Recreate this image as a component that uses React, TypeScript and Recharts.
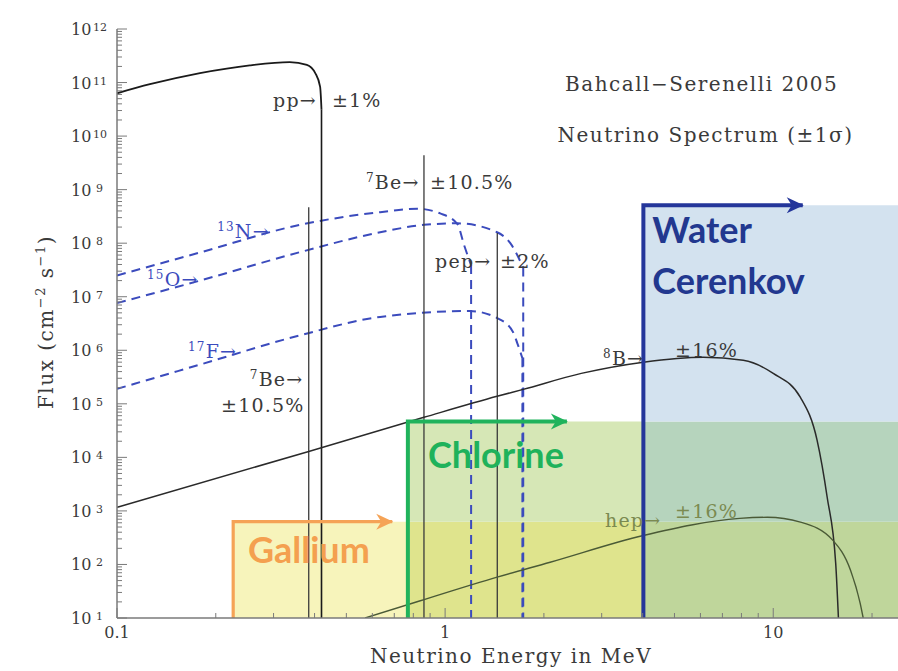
import React from "react";
import { ComposedChart, XAxis, YAxis, Line, Scatter, ReferenceArea } from "recharts";

const E_MIN = 0.1;
const E_MAX = 24;
const FLUX_MIN = 10;
const FLUX_MAX = 1e12;

// tick labels
const xTickLabels = [0.1, 1, 10];
const yDecades = [1, 2, 3, 4, 5, 6, 7, 8, 9, 10, 11, 12];

// continuous spectra, energy in MeV, flux in cm^-2 s^-1
const ppSpectrum = [
  { e: 0.1, flux: 6.3e10 },
  { e: 0.126, flux: 9.3e10 },
  { e: 0.179, flux: 1.5e11 },
  { e: 0.254, flux: 2.1e11 },
  { e: 0.336, flux: 2.4e11 },
  { e: 0.379, flux: 2.14e11 },
  { e: 0.402, flux: 1.5e11 },
  { e: 0.416, flux: 8.3e10 },
  { e: 0.42, flux: 3.1e10 },
];

const n13Spectrum = [
  { e: 0.1, flux: 2.5e7 },
  { e: 0.179, flux: 6.7e7 },
  { e: 0.361, flux: 2.2e8 },
  { e: 0.634, flux: 3.8e8 },
  { e: 0.822, flux: 4.4e8 },
  { e: 0.966, flux: 3.6e8 },
  { e: 1.089, flux: 2.3e8 },
  { e: 1.143, flux: 9.1e7 },
  { e: 1.2, flux: 3.9e7 },
];

const o15Spectrum = [
  { e: 0.1, flux: 7.6e6 },
  { e: 0.179, flux: 2.0e7 },
  { e: 0.361, flux: 6.8e7 },
  { e: 0.634, flux: 1.6e8 },
  { e: 0.862, flux: 2.2e8 },
  { e: 1.09, flux: 2.35e8 },
  { e: 1.44, flux: 1.6e8 },
  { e: 1.58, flux: 1.0e8 },
  { e: 1.73, flux: 3.5e7 },
];

const f17Spectrum = [
  { e: 0.1, flux: 1.9e5 },
  { e: 0.179, flux: 5.4e5 },
  { e: 0.361, flux: 1.9e6 },
  { e: 0.634, flux: 4.2e6 },
  { e: 1.19, flux: 5.4e6 },
  { e: 1.44, flux: 4.0e6 },
  { e: 1.61, flux: 2.2e6 },
  { e: 1.66, flux: 1.35e6 },
  { e: 1.72, flux: 7.1e5 },
];

const b8Spectrum = [
  { e: 0.1, flux: 1.17e3 },
  { e: 0.384, flux: 1.29e4 },
  { e: 0.862, flux: 5.6e4 },
  { e: 1.44, flux: 1.38e5 },
  { e: 1.73, flux: 1.86e5 },
  { e: 2.6, flux: 3.7e5 },
  { e: 4.02, flux: 6.0e5 },
  { e: 6.12, flux: 7.4e5 },
  { e: 8.1, flux: 6.5e5 },
  { e: 10, flux: 3.7e5 },
  { e: 12.1, flux: 1.32e5 },
  { e: 13.6, flux: 2.1e4 },
  { e: 14.6, flux: 1.8e3 },
  { e: 15.5, flux: 105 },
  { e: 15.8, flux: 10 },
];

const hepSpectrum = [
  { e: 0.57, flux: 10 },
  { e: 0.84, flux: 21 },
  { e: 1.44, flux: 58 },
  { e: 2.09, flux: 110 },
  { e: 4.02, flux: 347 },
  { e: 7.9, flux: 724 },
  { e: 9.6, flux: 760 },
  { e: 12.1, flux: 617 },
  { e: 15.2, flux: 282 },
  { e: 17.2, flux: 78 },
  { e: 18.4, flux: 19 },
  { e: 18.8, flux: 10 },
];

// monoenergetic lines
const lineSources = [
  { name: "7Be-384", e: 0.384, flux: 4.7e8 },
  { name: "7Be-862", e: 0.862, flux: 4.4e9 },
  { name: "pep", e: 1.442, flux: 1.55e8 },
];

// detector thresholds and the extent of their boxes
const detectors = [
  { name: "Gallium", threshold: 0.226, top: 630, arrowEnd: 0.69 },
  { name: "Chlorine", threshold: 0.77, top: 4.7e4, arrowEnd: 2.35 },
  { name: "Water", threshold: 4.02, top: 5.1e8, arrowEnd: 12.3 },
];

// annotations (anchored at text start / baseline)
const titleNotes = [
  { e: 2.32, flux: 6.9e10, sup: "", text: "Bahcall−Serenelli 2005" },
  { e: 2.2, flux: 7.7e9, sup: "", text: "Neutrino Spectrum (±1σ)" },
];

const spectrumNotes = [
  { e: 0.299, flux: 3.48e10, sup: "", text: "pp→" },
  { e: 0.452, flux: 3.48e10, sup: "", text: "±1%" },
  { e: 0.574, flux: 1.02e9, sup: "7", text: "Be→" },
  { e: 0.9, flux: 1.02e9, sup: "", text: "±10.5%" },
  { e: 0.932, flux: 3.4e7, sup: "", text: "pep→" },
  { e: 1.47, flux: 3.4e7, sup: "", text: "±2%" },
  { e: 0.254, flux: 2.12e5, sup: "7", text: "Be→" },
  { e: 0.2075, flux: 6.9e4, sup: "", text: "±10.5%" },
  { e: 3.03, flux: 5.25e5, sup: "8", text: "B→" },
  { e: 5.02, flux: 7.4e5, sup: "", text: "±16%" },
];

const hepNotes = [
  { e: 3.07, flux: 492, sup: "", text: "hep→" },
  { e: 5.02, flux: 724, sup: "", text: "±16%" },
];

const cnoNotes = [
  { e: 0.202, flux: 1.24e8, sup: "13", text: "N→" },
  { e: 0.1234, flux: 1.57e7, sup: "15", text: "O→" },
  { e: 0.1646, flux: 7.1e5, sup: "17", text: "F→" },
];

const detectorNotes = [
  { e: 0.2507, flux: 104.5, detector: "Gallium", text: "Gallium" },
  { e: 0.887, flux: 6.2e3, detector: "Chlorine", text: "Chlorine" },
  { e: 4.28, flux: 1.0e8, detector: "Water", text: "Water" },
  { e: 4.28, flux: 1.11e7, detector: "Water", text: "Cerenkov" },
];

const SERIF = "'DejaVu Serif', serif";
const SANS = "Lato, 'Open Sans', sans-serif";
const AXIS = "#7a7a7a";
const TEXT = "#3a3a3a";
const CNO = "#3b4bbd";
const DET_COLOR: Record<string, string> = {
  Gallium: "#f4a04f",
  Chlorine: "#1fb25b",
  Water: "#22388f",
};
const DET_LINE: Record<string, string> = {
  Gallium: "#f5a356",
  Chlorine: "#20b35c",
  Water: "#24369a",
};
const FILL = {
  gal: "#f7f4bb",
  galCl: "#dfe48d",
  cl: "#d6e7b6",
  all: "#bfd69b",
  waterCl: "#b6d4bd",
  water: "#d3e2ef",
};

const decadeTicks = (lo: number, hi: number) => {
  const out: number[] = [];
  for (let n = lo; n <= hi; n++) {
    for (let m = 1; m <= 9; m++) out.push(m * Math.pow(10, n));
  }
  return out;
};
const xTicks = decadeTicks(-1, 1).filter((v) => v <= E_MAX + 1e-9);
const yTicks = decadeTicks(yDecades[0], yDecades[yDecades.length - 1]).filter((v) => v <= FLUX_MAX * 1.0001);

const isDecade = (v: number) => Math.abs(Math.log10(v) - Math.round(Math.log10(v))) < 1e-6;

const dropFrom = (s: { e: number; flux: number }[]) => {
  const last = s[s.length - 1];
  return [last, { e: last.e, flux: FLUX_MIN }];
};

function LeftTick({ x, y, payload }: any) {
  const v = payload.value;
  const major = isDecade(v);
  const exp = Math.round(Math.log10(v));
  return (
    <g>
      <line x1={x} x2={x + (major ? 10 : 5)} y1={y} y2={y} stroke={AXIS} strokeWidth={1} />
      {major && yDecades.includes(exp) && (
        <text x={x - 46} y={y + 6} fontSize={16} fontFamily={SERIF} fill={TEXT}>
          10
          <tspan x={x - (exp >= 10 ? 24 : 21)} y={y + 2} fontSize={11}>
            {exp}
          </tspan>
        </text>
      )}
    </g>
  );
}

function RightTick({ x, y, payload }: any) {
  if (!isDecade(payload.value)) return <g />;
  return <line x1={x} x2={x - 8} y1={y} y2={y} stroke={AXIS} strokeWidth={1} />;
}

function BottomTick({ x, y, payload }: any) {
  const v = payload.value;
  const major = isDecade(v);
  const label = xTickLabels.find((t) => Math.abs(t - v) < 1e-9);
  return (
    <g>
      <line x1={x} x2={x} y1={y} y2={y - (major ? 10 : 5)} stroke={AXIS} strokeWidth={1} />
      {label !== undefined && (
        <text x={x} y={y + 20} textAnchor="middle" fontSize={16} fontFamily={SERIF} fill={TEXT}>
          {String(label)}
        </text>
      )}
    </g>
  );
}

function TopTick({ x, y, payload }: any) {
  const major = isDecade(payload.value);
  return <line x1={x} x2={x} y1={y} y2={y + (major ? 10 : 5)} stroke={AXIS} strokeWidth={1} />;
}

function XTitle({ viewBox }: any) {
  const cx = viewBox.x + viewBox.width / 2 + 3.5;
  return (
    <text x={cx} y={viewBox.y + 45} textAnchor="middle" fontSize={20} letterSpacing={1.5} fontFamily={SERIF} fill={TEXT}>
      Neutrino Energy in MeV
    </text>
  );
}

function YTitle({ viewBox }: any) {
  const cx = 45;
  const cy = viewBox.y + viewBox.height / 2 - 1.5;
  return (
    <text
      x={cx}
      y={cy}
      textAnchor="middle"
      fontSize={20}
      letterSpacing={1.5}
      fontFamily={SERIF}
      fill={TEXT}
      transform={`rotate(-90 ${cx} ${cy})`}
    >
      Flux (cm
      <tspan fontSize={13} dy={-8}>−2</tspan>
      <tspan dy={8}> s</tspan>
      <tspan fontSize={13} dy={-8}>−1</tspan>
      <tspan dy={8}>)</tspan>
    </text>
  );
}

const noteShape = (color: string, size: number, supSize: number, family = SERIF, weight = 400, spacing = 1.2) =>
  (p: any) => {
    const d = p.payload;
    return (
      <text x={p.cx} y={p.cy} fontSize={size} fontFamily={family} fontWeight={weight} fill={color} letterSpacing={spacing}>
        {d.sup ? (
          <>
            <tspan fontSize={supSize} dy={-7}>{d.sup}</tspan>
            <tspan dy={7}>{d.text}</tspan>
          </>
        ) : (
          d.text
        )}
      </text>
    );
  };

const detectorShape = (p: any) => {
  const d = p.payload;
  return (
    <text x={p.cx} y={p.cy} fontSize={36} fontFamily={SANS} fontWeight={700} fill={DET_COLOR[d.detector]}>
      {d.text}
    </text>
  );
};

const arrowDot = (color: string, last: number) => (p: any) =>
  p.index === last ? (
    <path
      key={`ad${p.index}`}
      d={`M${p.cx + 1} ${p.cy} L${p.cx - 16} ${p.cy - 8} L${p.cx - 11} ${p.cy} L${p.cx - 16} ${p.cy + 8} Z`}
      fill={color}
    />
  ) : (
    <g key={`ad${p.index}`} />
  );

export default function App() {
  const [gal, cl, water] = detectors;
  const bands = [
    { key: "gal", x1: gal.threshold, x2: cl.threshold, y1: FLUX_MIN, y2: gal.top, fill: FILL.gal },
    { key: "galCl", x1: cl.threshold, x2: water.threshold, y1: FLUX_MIN, y2: gal.top, fill: FILL.galCl },
    { key: "cl", x1: cl.threshold, x2: water.threshold, y1: gal.top, y2: cl.top, fill: FILL.cl },
    { key: "all", x1: water.threshold, x2: E_MAX, y1: FLUX_MIN, y2: gal.top, fill: FILL.all },
    { key: "waterCl", x1: water.threshold, x2: E_MAX, y1: gal.top, y2: cl.top, fill: FILL.waterCl },
    { key: "water", x1: water.threshold, x2: E_MAX, y1: cl.top, y2: water.top, fill: FILL.water },
  ];

  return (
    <div style={{ position: "absolute", left: 8, top: 8, width: 890, height: 663, background: "#fff" }}>
      <ComposedChart width={890} height={663} margin={{ top: 21, right: 0, bottom: 0, left: 0 }}>
        <XAxis
          xAxisId={0}
          dataKey="e"
          type="number"
          scale="log"
          domain={[E_MIN, E_MAX]}
          allowDataOverflow
          ticks={xTicks}
          interval={0}
          tickSize={0}
          tickMargin={0}
          tick={<BottomTick />}
          tickLine={false}
          axisLine={{ stroke: AXIS, strokeWidth: 1.5 }}
          height={53}
          label={<XTitle />}
        />
        <XAxis
          xAxisId="top"
          orientation="top"
          dataKey="e"
          type="number"
          scale="log"
          domain={[E_MIN, E_MAX]}
          allowDataOverflow
          ticks={xTicks}
          interval={0}
          tickSize={0}
          tickMargin={0}
          tick={<TopTick />}
          tickLine={false}
          axisLine={{ stroke: AXIS, strokeWidth: 1.5 }}
          height={0}
        />
        <YAxis
          yAxisId={0}
          dataKey="flux"
          type="number"
          scale="log"
          domain={[FLUX_MIN, FLUX_MAX]}
          allowDataOverflow
          ticks={yTicks}
          interval={0}
          tickSize={0}
          tickMargin={0}
          tick={<LeftTick />}
          tickLine={false}
          axisLine={{ stroke: AXIS, strokeWidth: 1.5 }}
          width={109}
          label={<YTitle />}
        />
        <YAxis
          yAxisId="right"
          orientation="right"
          dataKey="flux"
          type="number"
          scale="log"
          domain={[FLUX_MIN, FLUX_MAX]}
          allowDataOverflow
          ticks={yTicks}
          interval={0}
          tickSize={0}
          tickMargin={0}
          tick={<RightTick />}
          tickLine={false}
          axisLine={{ stroke: AXIS, strokeWidth: 1.5 }}
          width={0}
        />

        {bands.map((b) => (
          <ReferenceArea
            key={b.key}
            x1={b.x1}
            x2={b.x2}
            y1={b.y1}
            y2={b.y2}
            fill={b.fill}
            fillOpacity={1}
            stroke="none"
            ifOverflow="hidden"
          />
        ))}

        {/* CNO spectra */}
        {[n13Spectrum, o15Spectrum, f17Spectrum].map((s, i) => (
          <Line
            key={`cno${i}`}
            data={s}
            dataKey="flux"
            type="monotone"
            stroke={CNO}
            strokeWidth={2}
            strokeDasharray="9 6"
            dot={false}
            isAnimationActive={false}
          />
        ))}
        {[n13Spectrum, o15Spectrum, f17Spectrum].map((s, i) => (
          <Line
            key={`cnod${i}`}
            data={dropFrom(s)}
            dataKey="flux"
            type="linear"
            stroke={CNO}
            strokeWidth={2}
            strokeDasharray="9 6"
            dot={false}
            isAnimationActive={false}
          />
        ))}

        {/* monoenergetic lines */}
        {lineSources.map((l) => (
          <Line
            key={l.name}
            data={[{ e: l.e, flux: FLUX_MIN }, { e: l.e, flux: l.flux }]}
            dataKey="flux"
            type="linear"
            stroke="#3a3a3a"
            strokeWidth={1.3}
            dot={false}
            isAnimationActive={false}
          />
        ))}

        {/* pp, 8B, hep */}
        <Line data={ppSpectrum} dataKey="flux" type="monotone" stroke="#1a1a1a" strokeWidth={1.8} dot={false} isAnimationActive={false} />
        <Line data={dropFrom(ppSpectrum)} dataKey="flux" type="linear" stroke="#1a1a1a" strokeWidth={1.6} dot={false} isAnimationActive={false} />
        <Line data={b8Spectrum} dataKey="flux" type="monotone" stroke="#2a2a2a" strokeWidth={1.5} dot={false} isAnimationActive={false} />
        <Line data={hepSpectrum} dataKey="flux" type="monotone" stroke="#4a5a36" strokeWidth={1.4} dot={false} isAnimationActive={false} />

        {/* detector outlines with arrows */}
        {detectors.map((d) => {
          const path = [
            { e: d.threshold, flux: FLUX_MIN },
            { e: d.threshold, flux: d.top },
            { e: d.arrowEnd, flux: d.top },
          ];
          return (
            <Line
              key={`det${d.name}`}
              data={path}
              dataKey="flux"
              type="linear"
              stroke={DET_LINE[d.name]}
              strokeWidth={d.name === "Gallium" ? 3.2 : 4}
              dot={arrowDot(DET_LINE[d.name], path.length - 1)}
              isAnimationActive={false}
            />
          );
        })}

        <Scatter data={titleNotes} shape={noteShape(TEXT, 20, 13, SERIF, 400, 1.5)} isAnimationActive={false} />
        <Scatter data={spectrumNotes} shape={noteShape(TEXT, 19, 12)} isAnimationActive={false} />
        <Scatter data={hepNotes} shape={noteShape("#7b8a50", 19, 12)} isAnimationActive={false} />
        <Scatter data={cnoNotes} shape={noteShape(CNO, 19, 12)} isAnimationActive={false} />
        <Scatter data={detectorNotes} shape={detectorShape} isAnimationActive={false} />
      </ComposedChart>
    </div>
  );
}
